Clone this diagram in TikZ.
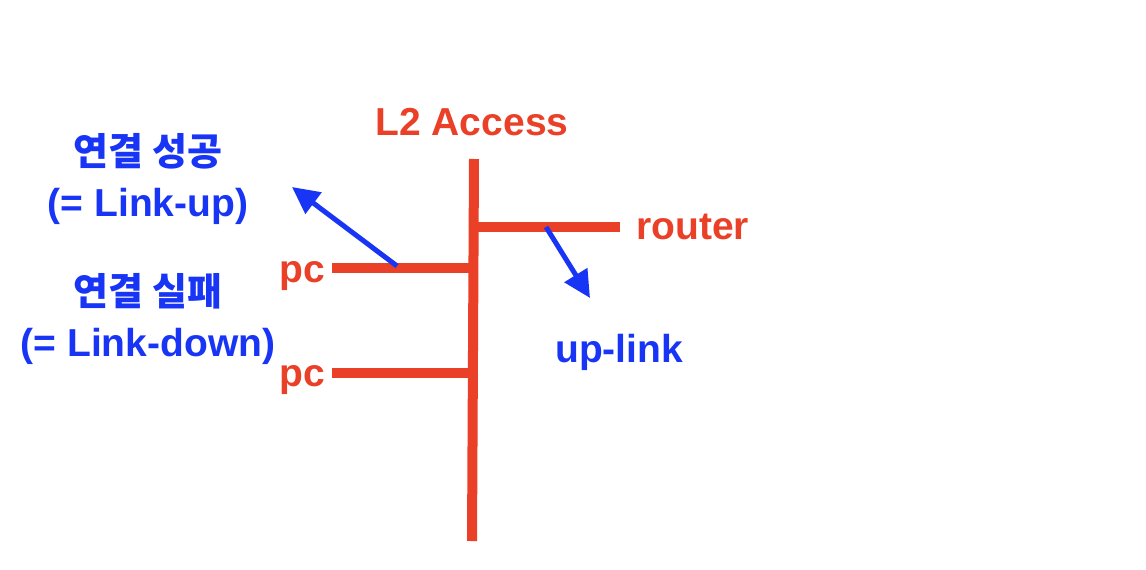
\documentclass[tikz,border=0pt]{standalone}
\usepackage{fontspec}
\setmainfont{Liberation Sans}
\newfontfamily\krfont{Noto Sans CJK KR}
\usetikzlibrary{arrows.meta}
\definecolor{wirered}{RGB}{233,64,39}
\definecolor{noteblue}{RGB}{24,53,245}

\begin{document}
\begin{tikzpicture}[x=1pt,y=-1pt,
    wire/.style={draw=wirered,line width=10pt},
    note/.style={-{Triangle[length=27pt,width=26pt]},draw=noteblue,line width=5pt},
    red label/.style={text=wirered,font=\fontsize{39}{44}\selectfont\bfseries,inner sep=0pt},
    blue label/.style={text=noteblue,font=\fontsize{39}{51}\selectfont\bfseries,inner sep=0pt,align=center}]
  \useasboundingbox (0,0) rectangle (1146,570);

  % the access switch and its ports
  \coordinate (TOP)     at (474,159);
  \coordinate (BOT)     at (472,541);
  \coordinate (PCAJOIN) at (473,268);
  \coordinate (PCBJOIN) at (472,373);
  \coordinate (RTJOIN)  at (478,227);
  \coordinate (RTEND)   at (620,227);

  \node[red label,anchor=base]      (L2)  at (472,135) {L2 Access};
  \node[red label,anchor=base west] (PCA) at (279,282) {pc};
  \node[red label,anchor=base west] (PCB) at (279,386) {pc};
  \node[red label,anchor=base west] (RT)  at (636,239) {router};

  \draw[wire] (TOP) -- (BOT);
  \draw[wire] (PCA.east |- PCAJOIN) ++(7,0) -- (PCAJOIN);
  \draw[wire] (PCB.east |- PCBJOIN) ++(7,0) -- (PCBJOIN);
  \draw[wire] (RTJOIN) -- (RTEND);

  % notes
  \node[blue label] (UPNOTE) at (148,179)
    {{\krfont\fontsize{38}{51}\selectfont 연결 성공}\\(= Link-up)};
  \node[blue label] (DNNOTE) at (148,319)
    {{\krfont\fontsize{38}{51}\selectfont 연결 실패}\\(= Link-down)};
  \node[blue label,anchor=base west] (UPLINK) at (555,362) {up-link};

  \coordinate (UPTAIL) at (397,266);
  \coordinate (UPHEAD) at (292,187);
  \coordinate (DNTAIL) at (546,227);
  \coordinate (DNHEAD) at (590,298);

  \draw[note] (UPTAIL) -- (UPHEAD);
  \draw[note] (DNTAIL) -- (DNHEAD);
\end{tikzpicture}
\end{document}
